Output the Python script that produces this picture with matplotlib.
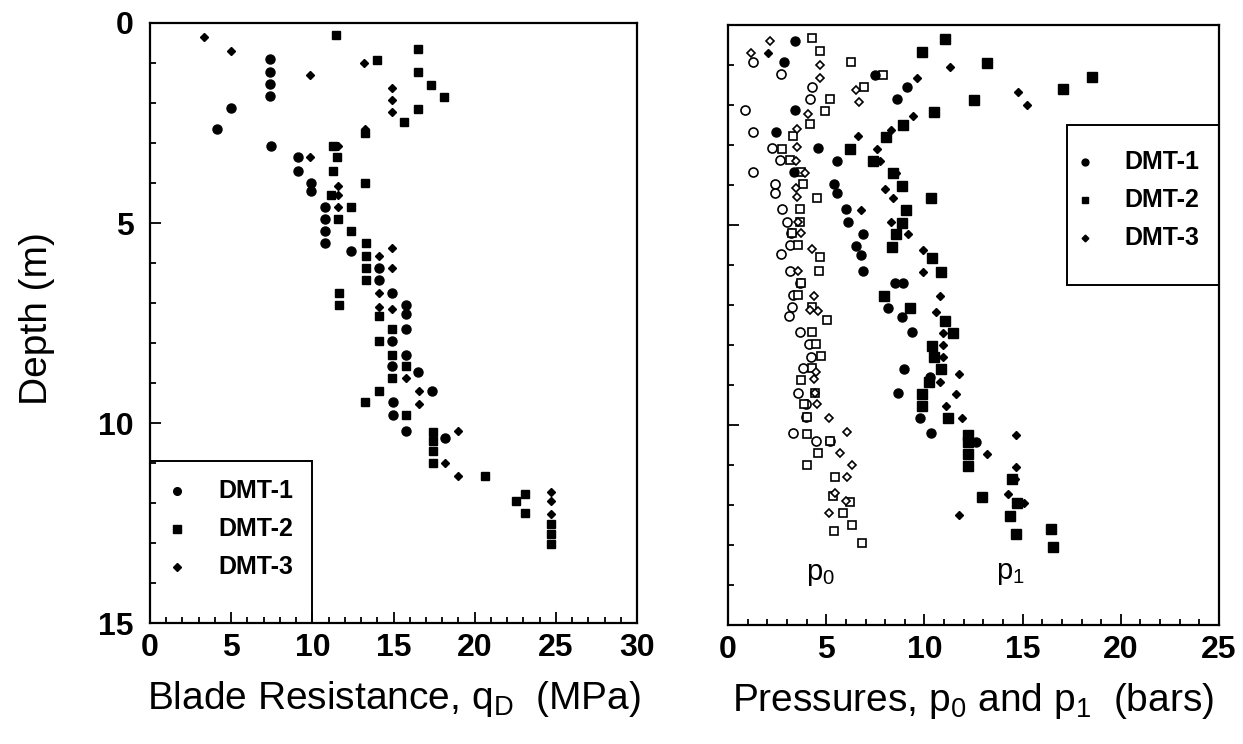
import matplotlib
matplotlib.use('Agg')
import matplotlib.pyplot as plt
from matplotlib.ticker import MultipleLocator
from matplotlib.patches import Rectangle

plt.rcParams['font.family'] = ['Liberation Sans', 'DejaVu Sans']
plt.rcParams['mathtext.fontset'] = 'custom'
plt.rcParams['mathtext.rm'] = 'Liberation Sans'

# ---------------- Left panel: blade resistance qD (MPa) vs depth (m) ----------------
qd1_x = [7.41, 7.41, 7.41, 7.41, 4.98, 4.13, 7.44, 9.1, 9.1, 9.93, 9.93, 10.76, 10.76, 10.76,
         10.76, 12.41, 14.08, 14.08, 14.9, 15.75, 15.74, 15.75, 14.92, 15.75, 14.92, 16.53,
         17.4, 14.94, 14.94, 15.77, 18.17]
qd1_z = [0.91, 1.22, 1.52, 1.83, 2.12, 2.64, 3.08, 3.36, 3.69, 3.99, 4.21, 4.6, 4.91, 5.21,
         5.5, 5.71, 6.13, 6.42, 6.75, 7.04, 7.27, 7.66, 7.96, 8.29, 8.58, 8.73,
         9.19, 9.48, 9.8, 10.19, 10.37]

qd2_x = [11.48, 16.48, 14.0, 16.48, 17.3, 18.1, 16.5, 15.64, 13.23, 11.28, 11.49, 11.3, 13.25,
         11.16, 12.37, 11.57, 12.39, 13.28, 13.28, 13.28, 13.28, 11.64, 11.64, 14.08, 14.92,
         14.08, 14.92, 15.75, 14.92, 14.1, 13.24, 15.77, 17.43, 17.43, 17.43, 17.43, 20.66,
         23.08, 22.53, 23.08, 24.7, 24.7, 24.7]
qd2_z = [0.3, 0.65, 0.92, 1.23, 1.55, 1.86, 2.15, 2.48, 2.76, 3.08, 3.36, 3.69, 4.0,
         4.3, 4.6, 4.91, 5.21, 5.5, 5.83, 6.13, 6.42, 6.75, 7.04, 7.33, 7.66,
         7.96, 8.29, 8.58, 8.87, 9.19, 9.48, 9.8, 10.23, 10.44, 10.71, 11.0, 11.33,
         11.77, 11.94, 12.25, 12.52, 12.77, 13.02]

qd3_x = [3.31, 4.96, 9.84, 13.18, 14.88, 14.88, 14.9, 13.23, 11.55, 9.88, 11.57, 11.57, 11.57,
         14.9, 14.08, 14.9, 14.1, 14.1, 14.9, 15.75, 16.54, 16.54, 18.98, 18.17, 18.98,
         24.7, 24.7, 24.7]
qd3_z = [0.36, 0.69, 1.29, 0.99, 1.62, 1.92, 2.22, 2.64, 3.08, 3.36, 4.08, 4.3, 4.6,
         5.62, 5.83, 6.13, 6.75, 7.1, 7.15, 8.87, 9.19, 9.52, 10.19, 11.0, 11.33,
         11.73, 11.94, 12.27]

# ---------------- Right panel: pressures p0 (open) and p1 (filled), bars ----------------
p0_1_x = [1.27, 2.68, 4.26, 4.18, 0.88, 1.27, 2.24, 2.63, 1.27, 2.38, 2.38, 2.77, 2.98, 3.23,
          3.14, 2.68, 3.15, 3.66, 3.31, 3.28, 3.11, 3.68, 4.1, 4.23, 3.8, 3.55, 3.98, 3.98,
          3.3, 4.5, 5.17]
p0_1_z = [0.92, 1.23, 1.56, 1.85, 2.13, 2.68, 3.08, 3.38, 3.68, 3.98, 4.19, 4.61, 4.92, 5.21,
          5.5, 5.73, 6.14, 6.44, 6.75, 7.04, 7.28, 7.67, 7.98, 8.29, 8.57, 9.19, 9.48, 9.81,
          10.19, 10.39, 10.39]

p0_2_x = [4.27, 4.7, 6.27, 7.9, 6.92, 5.2, 4.95, 4.16, 3.31, 2.75, 3.14, 3.73, 3.82, 4.53,
          3.68, 3.68, 3.26, 3.56, 4.67, 4.64, 3.7, 3.58, 4.26, 5.06, 4.3, 4.47, 4.73, 4.3,
          3.71, 4.45, 3.89, 4.02, 4.04, 5.17, 4.58, 4.04, 5.47, 5.32, 6.2, 5.87, 6.3, 5.41, 6.84]
p0_2_z = [0.33, 0.64, 0.93, 1.25, 1.56, 1.85, 2.14, 2.48, 2.77, 3.1, 3.38, 3.68, 3.98, 4.32,
          4.6, 4.92, 5.19, 5.5, 5.8, 6.14, 6.44, 6.75, 7.04, 7.38, 7.67, 7.98, 8.28, 8.57,
          8.88, 9.19, 9.48, 9.81, 10.23, 10.39, 10.69, 11.0, 11.31, 11.77, 11.93, 12.2, 12.5,
          12.64, 12.96]

p0_3_x = [2.15, 1.16, 4.67, 4.67, 6.5, 6.65, 4.07, 3.53, 3.53, 3.48, 3.9, 3.45, 3.53, 3.56,
          3.73, 4.27, 3.56, 4.4, 4.18, 4.57, 4.47, 4.38, 4.45, 4.52, 5.14, 6.04, 5.72, 6.31,
          6.06, 5.47, 5.99, 5.15]
p0_3_z = [0.39, 0.69, 1.0, 1.32, 1.63, 1.93, 2.23, 2.61, 3.06, 3.39, 3.69, 4.07, 4.29, 4.92,
          5.19, 5.61, 6.14, 6.77, 7.13, 7.15, 8.67, 8.86, 9.19, 9.48, 9.82, 10.18, 10.69, 11.0,
          11.31, 11.7, 11.9, 12.2]

p1_1_x = [3.43, 2.85, 7.5, 9.11, 8.6, 3.43, 2.46, 4.58, 5.55, 3.36, 5.38, 5.55, 6.02, 6.11,
          6.87, 6.53, 6.78, 6.87, 8.5, 8.9, 7.95, 8.15, 8.88, 9.39, 10.55, 8.97, 10.3, 8.67,
          9.77, 10.33, 12.64]
p1_1_z = [0.4, 0.92, 1.25, 1.56, 1.86, 2.13, 2.67, 3.07, 3.39, 3.68, 3.98, 4.21, 4.61, 4.92,
          5.23, 5.52, 5.75, 6.14, 6.44, 6.44, 6.77, 7.07, 7.31, 7.68, 8.3, 8.61, 8.79, 9.21,
          9.83, 10.19, 10.42]

p1_2_x = [11.06, 9.89, 13.18, 18.54, 17.05, 12.5, 10.47, 8.9, 8.06, 6.22, 7.38, 8.4, 8.87,
          10.35, 9.04, 8.85, 8.56, 8.35, 10.38, 10.85, 7.95, 9.28, 11.04, 11.45, 10.38, 10.47,
          10.82, 10.22, 9.86, 9.9, 11.2, 12.2, 12.2, 12.2, 12.2, 14.48, 12.95, 14.7, 14.35,
          14.65, 16.45, 16.55]
p1_2_z = [0.36, 0.67, 0.96, 1.31, 1.6, 1.88, 2.17, 2.5, 2.79, 3.11, 3.4, 3.71, 4.02,
          4.33, 4.63, 4.94, 5.23, 5.54, 5.83, 6.17, 6.77, 7.07, 7.4, 7.71, 8.02, 8.31,
          8.61, 8.92, 9.23, 9.52, 9.83, 10.25, 10.42, 10.73, 11.02, 11.35, 11.81, 11.94, 12.28,
          12.73, 12.59, 13.04]

p1_3_x = [2.04, 11.32, 9.62, 14.76, 15.22, 9.41, 8.31, 6.62, 7.6, 7.72, 8.53, 7.97, 8.4, 6.78,
          8.28, 9.15, 9.92, 10.42, 9.92, 10.8, 10.6, 10.95, 10.95, 10.95, 11.74, 10.79, 11.59,
          11.1, 11.92, 14.65, 13.18, 14.65, 14.6, 14.24, 15.09, 11.74]
p1_3_z = [0.71, 1.04, 1.33, 1.67, 2.0, 2.28, 2.63, 2.78, 3.1, 3.4, 3.71, 4.1, 4.33, 4.63,
          4.93, 5.23, 5.63, 5.83, 6.17, 6.78, 7.17, 7.71, 8.0, 8.3, 8.72, 8.92, 9.23,
          9.52, 9.83, 10.25, 10.73, 11.04, 11.35, 11.73, 11.94, 12.25]

series_names = ['DMT-1', 'DMT-2', 'DMT-3']
left_xticks = [0, 5, 10, 15, 20, 25, 30]
right_xticks = [0, 5, 10, 15, 20, 25]
depth_ticks = [0, 5, 10, 15]

fig = plt.figure(figsize=(12.43, 7.44), dpi=100)
ax1 = fig.add_axes([0.1207, 0.1626, 0.3918, 0.8065])
ax2 = fig.add_axes([0.5857, 0.1600, 0.3950, 0.8065])

TICK_FS = 23
LABEL_FS = 28
LEG_FS = 18

for ax, xt in ((ax1, left_xticks), (ax2, right_xticks)):
    ax.set_xlim(xt[0], xt[-1])
    ax.set_ylim(15, 0)
    ax.set_xticks(xt)
    ax.set_yticks(depth_ticks)
    ax.xaxis.set_minor_locator(MultipleLocator(1))
    ax.yaxis.set_minor_locator(MultipleLocator(1))
    ax.tick_params(which='both', direction='in', top=False, right=False, width=1.3)
    ax.tick_params(which='major', length=8, labelsize=TICK_FS)
    ax.tick_params(which='minor', length=4)
    ax.tick_params(axis='x', pad=7)
    ax.tick_params(axis='y', pad=12)
    for lab in ax.get_xticklabels() + ax.get_yticklabels():
        lab.set_fontweight('bold')
    for s in ax.spines.values():
        s.set_linewidth(1.6)
ax2.tick_params(labelleft=False)

# left panel markers
ax1.plot(qd1_x, qd1_z, 'o', ms=6.5, color='k', ls='none', clip_on=False)
ax1.plot(qd2_x, qd2_z, 's', ms=6.3, color='k', ls='none', clip_on=False)
ax1.plot(qd3_x, qd3_z, 'D', ms=4.2, color='k', ls='none', clip_on=False)

# right panel markers: p0 open, p1 filled
ax2.plot(p0_1_x, p0_1_z, 'o', ms=6.5, mfc='white', mec='k', mew=1.2, ls='none')
ax2.plot(p0_2_x, p0_2_z, 's', ms=6.3, mfc='white', mec='k', mew=1.2, ls='none')
ax2.plot(p0_3_x, p0_3_z, 'D', ms=4.5, mfc='white', mec='k', mew=1.2, ls='none')
ax2.plot(p1_1_x, p1_1_z, 'o', ms=6.5, color='k', ls='none')
ax2.plot(p1_2_x, p1_2_z, 's', ms=6.5, color='k', ls='none')
ax2.plot(p1_3_x, p1_3_z, 'D', ms=4.5, color='k', ls='none')

# legend boxes (axes-fraction coordinates)
def legend_box(ax, x0, y0, x1, y1, mx, tx, ys, ms_scale):
    ax.add_patch(Rectangle((x0, y0), x1 - x0, y1 - y0, transform=ax.transAxes,
                           fill=False, lw=1.4, ec='k', clip_on=False, zorder=5))
    for mk, name, y, ms in zip(['o', 's', 'D'], series_names, ys,
                               [5.5 * ms_scale, 5.3 * ms_scale, 3.8 * ms_scale]):
        ax.plot([mx], [y], mk, ms=ms, color='k', transform=ax.transAxes, clip_on=False)
        ax.text(tx, y, name, transform=ax.transAxes, fontsize=LEG_FS, va='center',
                ha='left', fontweight='bold')

legend_box(ax1, 0.0, 0.0, 1 / 3, 0.27, 0.055, 0.14, [0.22, 0.157, 0.093], 1.0)
legend_box(ax2, 0.69, 0.567, 1.0, 0.833, 0.728, 0.808, [0.772, 0.708, 0.645], 0.9)

ax2.text(4.7, 13.87, r'p$_\mathregular{0}$', fontsize=21, ha='center', va='baseline')
ax2.text(14.4, 13.85, r'p$_\mathregular{1}$', fontsize=21, ha='center', va='baseline')

ax1.set_xlabel(r'Blade Resistance, q$_\mathregular{D}$  (MPa)', fontsize=LABEL_FS, labelpad=12)
ax2.set_xlabel(r'Pressures, p$_\mathregular{0}$ and p$_\mathregular{1}$  (bars)',
               fontsize=LABEL_FS, labelpad=12)
ax1.set_ylabel('Depth (m)', fontsize=LABEL_FS)
ax1.yaxis.set_label_coords(-0.195, 0.508)

fig.savefig('out.png', dpi=100)
